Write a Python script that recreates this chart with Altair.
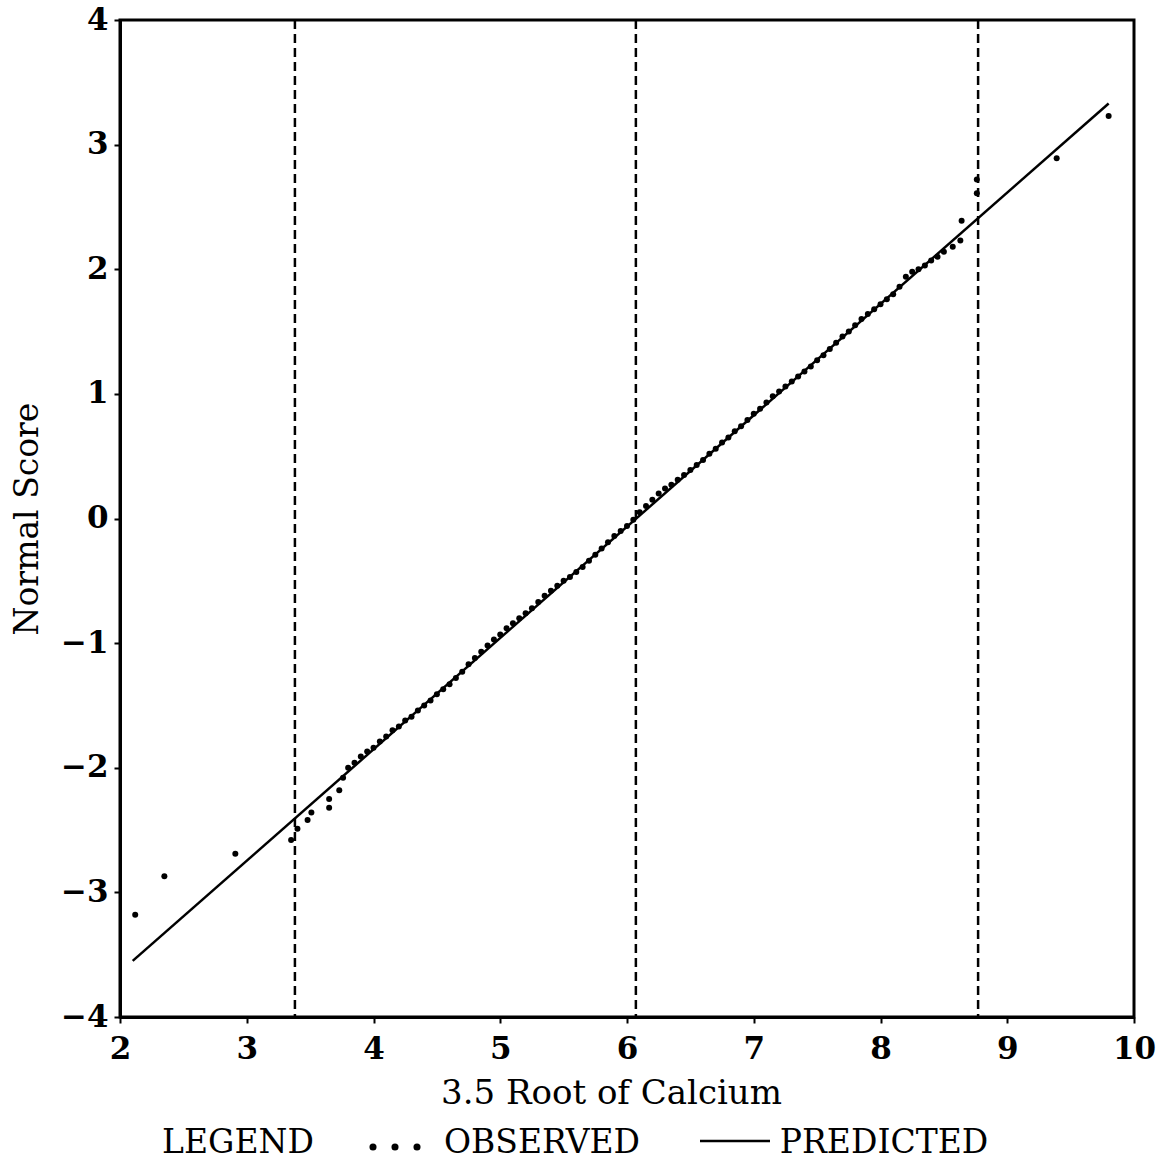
import altair as alt
import pandas as pd

# Observed normal scores
obs_x = [2.12, 2.35, 2.91, 3.35, 3.40, 3.48, 3.51, 3.65, 3.65, 3.73, 3.76, 3.80,
         3.85, 3.90, 3.95, 4.00, 4.05, 4.10, 4.15, 4.20, 4.25, 4.30, 4.35, 4.40,
         4.45, 4.50, 4.55, 4.60, 4.65, 4.70, 4.75, 4.80, 4.85, 4.90, 4.95, 5.00,
         5.05, 5.10, 5.15, 5.20, 5.25, 5.30, 5.35, 5.40, 5.45, 5.50, 5.55, 5.60,
         5.65, 5.70, 5.75, 5.80, 5.85, 5.90, 5.95, 6.00, 6.05, 6.10, 6.15, 6.20,
         6.25, 6.30, 6.35, 6.40, 6.45, 6.50, 6.55, 6.60, 6.65, 6.70, 6.75, 6.80,
         6.85, 6.90, 6.95, 7.00, 7.05, 7.10, 7.15, 7.20, 7.25, 7.30, 7.35, 7.40,
         7.45, 7.50, 7.55, 7.60, 7.65, 7.70, 7.75, 7.80, 7.85, 7.90, 7.95, 8.00,
         8.05, 8.10, 8.15, 8.20, 8.25, 8.30, 8.35, 8.40, 8.45, 8.50, 8.57, 8.63,
         8.64, 8.76, 8.76, 9.39, 9.80]
obs_y = [-3.18, -2.87, -2.69, -2.58, -2.49, -2.42, -2.36, -2.32, -2.25, -2.18, -2.08, -2.00,
         -1.96, -1.91, -1.87, -1.84, -1.79, -1.75, -1.70, -1.67, -1.62, -1.59, -1.54, -1.50,
         -1.46, -1.41, -1.37, -1.33, -1.28, -1.23, -1.17, -1.12, -1.07, -1.02, -0.97, -0.93,
         -0.88, -0.84, -0.80, -0.76, -0.72, -0.67, -0.62, -0.58, -0.54, -0.50, -0.47, -0.43,
         -0.39, -0.34, -0.29, -0.24, -0.19, -0.14, -0.10, -0.06, -0.01, 0.05, 0.10, 0.15,
         0.20, 0.24, 0.27, 0.31, 0.35, 0.39, 0.43, 0.47, 0.52, 0.56, 0.61, 0.65,
         0.70, 0.74, 0.79, 0.84, 0.88, 0.93, 0.98, 1.02, 1.06, 1.10, 1.14, 1.18,
         1.22, 1.27, 1.31, 1.36, 1.41, 1.46, 1.50, 1.55, 1.60, 1.64, 1.68, 1.72,
         1.76, 1.80, 1.86, 1.94, 1.98, 2.00, 2.03, 2.07, 2.10, 2.14, 2.18, 2.23,
         2.39, 2.61, 2.72, 2.89, 3.23]

# Predicted line endpoints
pred_x = [2.10, 9.80]
pred_y = [-3.55, 3.33]

# Vertical reference (dashed) lines
cut_x = [3.38, 6.07, 8.77]

x_ticks = [2, 3, 4, 5, 6, 7, 8, 9, 10]
y_ticks = [-4, -3, -2, -1, 0, 1, 2, 3, 4]

obs_df = pd.DataFrame({"x": obs_x, "y": obs_y})
pred_df = pd.DataFrame({"x": pred_x, "y": pred_y})
cut_df = pd.DataFrame({"x": cut_x})
one = pd.DataFrame({"a": [0]})

xscale = alt.Scale(domain=[2, 10], nice=False, zero=False)
yscale = alt.Scale(domain=[-4, 4], nice=False, zero=False)

SERIF = "DejaVu Serif"

xaxis = alt.Axis(title="3.5 Root of Calcium", values=x_ticks, grid=False,
                 labelFont=SERIF, labelFontSize=31, labelFontWeight="bold",
                 labelPadding=11, tickSize=6, tickWidth=2, tickColor="black",
                 domainColor="black", domainWidth=3, labelColor="black",
                 titleFont=SERIF, titleFontSize=34, titleFontWeight="normal",
                 titlePadding=12, titleColor="black", labelFlush=False,
                 titleX=491, titleAlign="center")
yaxis = alt.Axis(title="Normal Score", values=y_ticks, grid=False, format="d",
                 labelFont=SERIF, labelFontSize=31, labelFontWeight="bold",
                 labelPadding=6, tickSize=6, tickWidth=2, tickColor="black",
                 domainColor="black", domainWidth=3, labelColor="black",
                 titleFont=SERIF, titleFontSize=33, titleFontWeight="normal",
                 titlePadding=16, titleColor="black", labelFlush=False)

points = alt.Chart(obs_df).mark_circle(size=36, color="black", opacity=1).encode(
    x=alt.X("x:Q", scale=xscale, axis=xaxis),
    y=alt.Y("y:Q", scale=yscale, axis=yaxis),
)

line = alt.Chart(pred_df).mark_line(color="black", strokeWidth=2.5).encode(
    x=alt.X("x:Q", scale=xscale, axis=xaxis),
    y=alt.Y("y:Q", scale=yscale, axis=yaxis),
)

rules = alt.Chart(cut_df).mark_rule(color="black", strokeWidth=2.5, strokeDash=[9, 5]).encode(
    x=alt.X("x:Q", scale=xscale, axis=xaxis),
)

LEG_Y = 1123
leg_font = dict(font=SERIF, fontSize=33, fontWeight="normal", color="black",
                baseline="middle", align="center")
leg_title = alt.Chart(one).mark_text(**leg_font).encode(
    x=alt.value(118), y=alt.value(LEG_Y), text=alt.value("LEGEND"))
leg_obs = alt.Chart(one).mark_text(**leg_font).encode(
    x=alt.value(422), y=alt.value(LEG_Y), text=alt.value("OBSERVED"))
leg_pred = alt.Chart(one).mark_text(**leg_font).encode(
    x=alt.value(764), y=alt.value(LEG_Y), text=alt.value("PREDICTED"))
leg_dots = alt.layer(*[
    alt.Chart(one).mark_circle(size=50, color="black", opacity=1).encode(
        x=alt.value(px), y=alt.value(LEG_Y + 4))
    for px in (253, 275, 297)
])
leg_line = alt.Chart(one).mark_rule(color="black", strokeWidth=2.5).encode(
    x=alt.value(580), x2=alt.value(650), y=alt.value(LEG_Y - 2))

chart = alt.layer(rules, line, points, leg_title, leg_obs, leg_pred, leg_dots, leg_line).properties(
    width=1014, height=997,
    autosize=alt.AutoSizeParams(type="none"),
    padding={"left": 120, "top": 20, "right": 27, "bottom": 149},
    background="white",
).configure_view(stroke="black", strokeWidth=3)

chart.save("out.html", embed_options={"renderer": "svg", "actions": False})
